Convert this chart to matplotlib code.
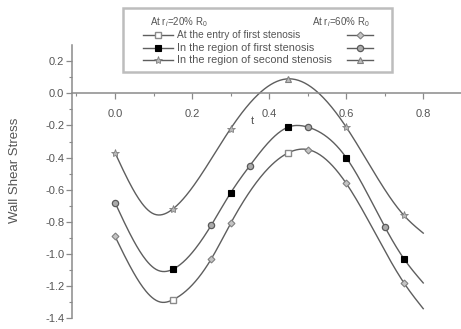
import numpy as np
import matplotlib
matplotlib.use("Agg")
import matplotlib.pyplot as plt
from matplotlib.lines import Line2D
from matplotlib.patches import Rectangle

plt.rcParams['font.family'] = ['Liberation Sans', 'DejaVu Sans']
plt.rcParams['mathtext.fontset'] = 'custom'
plt.rcParams['mathtext.rm'] = 'Liberation Sans'
plt.rcParams['mathtext.it'] = 'Liberation Sans:italic'

# --- data: wall shear stress along the time axis for three locations ---
# Entry of first stenosis
entry_t = [0.00, 0.12, 0.15, 0.25, 0.30, 0.45, 0.50, 0.60, 0.75, 0.80]
entry_w = [-0.89, -1.30, -1.285, -1.03, -0.81, -0.37, -0.35, -0.56, -1.18, -1.34]
entry_r20 = [2, 5]            # indices carrying the r=20% marker
entry_r60 = [0, 3, 4, 6, 7, 8]  # indices carrying the r=60% marker

# Region of first stenosis
first_t = [0.00, 0.11, 0.15, 0.25, 0.30, 0.35, 0.45, 0.50, 0.60, 0.70, 0.75, 0.80]
first_w = [-0.68, -1.10, -1.095, -0.82, -0.62, -0.45, -0.21, -0.21, -0.40, -0.83, -1.03, -1.18]
first_r20 = [2, 4, 6, 8, 10]
first_r60 = [0, 3, 5, 7, 9]

# Region of second stenosis
second_t = [0.00, 0.10, 0.15, 0.30, 0.45, 0.60, 0.75, 0.80]
second_w = [-0.37, -0.75, -0.72, -0.22, 0.09, -0.21, -0.76, -0.87]
second_r20 = [0, 2, 3, 5, 6]
second_r60 = [4]

x_ticks = [0.0, 0.2, 0.4, 0.6, 0.8]
y_ticks = [0.2, 0.0, -0.2, -0.4, -0.6, -0.8, -1.0, -1.2, -1.4]


def natural_spline(x, y, xs):
    x = np.asarray(x, float)
    y = np.asarray(y, float)
    n = len(x)
    h = np.diff(x)
    A = np.zeros((n, n))
    b = np.zeros(n)
    A[0, 0] = A[-1, -1] = 1.0
    for i in range(1, n - 1):
        A[i, i - 1] = h[i - 1]
        A[i, i] = 2 * (h[i - 1] + h[i])
        A[i, i + 1] = h[i]
        b[i] = 6 * ((y[i + 1] - y[i]) / h[i] - (y[i] - y[i - 1]) / h[i - 1])
    M = np.linalg.solve(A, b)
    idx = np.clip(np.searchsorted(x, xs) - 1, 0, n - 2)
    x0, x1 = x[idx], x[idx + 1]
    hh = x1 - x0
    a = (x1 - xs) / hh
    c = (xs - x0) / hh
    return (a * y[idx] + c * y[idx + 1]
            + ((a ** 3 - a) * M[idx] + (c ** 3 - c) * M[idx + 1]) * hh ** 2 / 6)


fig = plt.figure(figsize=(4.61, 3.29), dpi=100)
ax = fig.add_axes([0.1562, 0.0325, 0.8438, 0.8305])
ax.set_xlim(-0.1116, 0.898)
ax.set_ylim(-1.40, 0.30)

line_col = '#5e5e5e'
axis_col = '#8a8a8a'
text_col = '#555555'

styles = {
    'entry20': dict(marker='s', ms=4.5, mfc='white', mec='#8a8a8a', mew=1.0),
    'entry60': dict(marker='D', ms=3.5, mfc='#c4c4c4', mec='#808080', mew=0.8),
    'first20': dict(marker='s', ms=5, mfc='black', mec='black', mew=0.8),
    'first60': dict(marker='o', ms=4.5, mfc='#ababab', mec='#5a5a5a', mew=0.9),
    'second20': dict(marker='*', ms=6, mfc='#b8b8b8', mec='#808080', mew=0.6),
    'second60': dict(marker='^', ms=5, mfc='#bdbdbd', mec='#808080', mew=0.8),
}

curves = [
    (entry_t, entry_w, entry_r20, entry_r60, 'entry20', 'entry60'),
    (first_t, first_w, first_r20, first_r60, 'first20', 'first60'),
    (second_t, second_w, second_r20, second_r60, 'second20', 'second60'),
]

for t, w, i20, i60, s20, s60 in curves:
    ts = np.linspace(t[0], t[-1], 300)
    ax.plot(ts, natural_spline(t, w, ts), color=line_col, lw=1.0, zorder=2)
    tt = np.asarray(t)
    ww = np.asarray(w)
    ax.plot(tt[i60], ww[i60], ls='none', zorder=3, **styles[s60])
    ax.plot(tt[i20], ww[i20], ls='none', zorder=4, **styles[s20])

# axes styling: x axis crosses at zero
ax.spines['top'].set_visible(False)
ax.spines['right'].set_visible(False)
ax.spines['bottom'].set_position(('data', 0.0))
for s in ('left', 'bottom'):
    ax.spines[s].set_color(axis_col)
    ax.spines[s].set_linewidth(1.1)

ax.set_xticks(x_ticks)
ax.set_xticklabels([f'{v:.1f}' for v in x_ticks])
ax.set_xticks(np.arange(-0.1, 0.9, 0.1), minor=True)
ax.set_yticks(y_ticks)
ax.set_yticklabels([f'{v:.1f}' for v in y_ticks])
ax.set_yticks(np.arange(-1.3, 0.3, 0.2), minor=True)

ax.tick_params(axis='x', which='major', direction='out', length=4, width=0.9,
               color=axis_col, labelsize=8, labelcolor=text_col, pad=7)
ax.tick_params(axis='x', which='minor', direction='out', length=2.5, width=0.8,
               color=axis_col)
ax.tick_params(axis='y', which='major', direction='out', length=4, width=0.9,
               color=axis_col, labelsize=8, labelcolor=text_col, pad=1.5)
ax.tick_params(axis='y', which='minor', direction='out', length=2.5, width=0.8,
               color=axis_col)

ax.text(0.356, -0.175, 't', fontsize=8, color=text_col, ha='center', va='center')

fig.text(0.033, 0.483, 'Wall Shear Stress', rotation=90, fontsize=9.5,
         color=text_col, ha='center', va='center')

# legend box drawn in figure pixels
W, H = 461.0, 329.0


def fx(px):
    return px / W


def fy(py):
    return 1 - py / H


fig.patches.append(Rectangle((fx(123), fy(72)), fx(392) - fx(123), fy(8) - fy(72),
                             transform=fig.transFigure, fill=True, fc='white',
                             ec='#bdbdbd', lw=1.8, zorder=5))

fig.text(fx(179), fy(22), r'At r$_i$=20% R$_0$', fontsize=7, color=text_col,
         ha='center', va='center', zorder=6)
fig.text(fx(341), fy(22), r'At r$_i$=60% R$_0$', fontsize=7, color=text_col,
         ha='center', va='center', zorder=6)

rows = [
    ('At the entry of first stenosis', 'entry20', 'entry60', 35, 7.3),
    ('In the region of first stenosis', 'first20', 'first60', 48, 7.8),
    ('In the region of second stenosis', 'second20', 'second60', 60, 7.8),
]
for label, s20, s60, py, fs in rows:
    for x0, x1, st in ((143, 173, s20), (347, 373, s60)):
        fig.lines.append(Line2D([fx(x0), fx(x1)], [fy(py), fy(py)],
                                transform=fig.transFigure, color=line_col,
                                lw=1.0, zorder=6))
        fig.lines.append(Line2D([fx((x0 + x1) / 2)], [fy(py)],
                                transform=fig.transFigure, ls='none',
                                zorder=7, **styles[st]))
    fig.text(fx(177), fy(py), label, fontsize=fs, color=text_col,
             ha='left', va='center', zorder=6)

fig.savefig('out.png', dpi=100)
